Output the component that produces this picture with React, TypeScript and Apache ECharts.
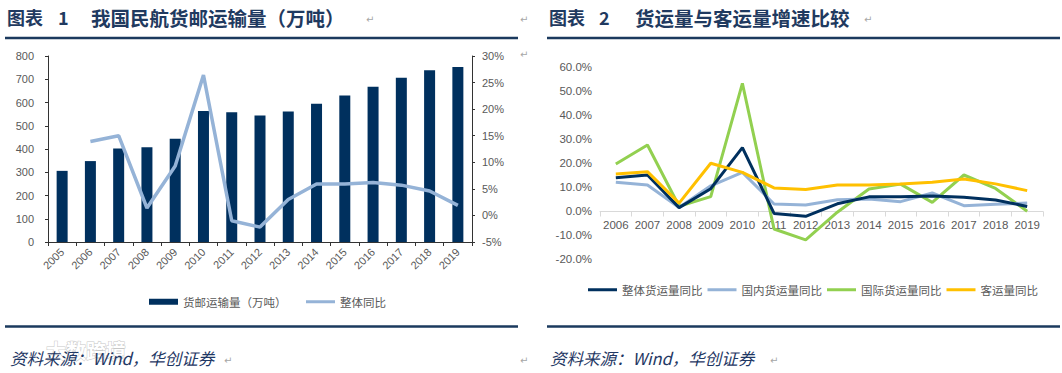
import React, { useEffect, useRef } from "react";
import * as echarts from "echarts";

const years1 = ["2005","2006","2007","2008","2009","2010","2011","2012","2013","2014","2015","2016","2017","2018","2019"];
const cargoVolume = [306, 348, 402, 407, 444, 563, 558, 544, 561, 595, 630, 668, 706, 739, 753];
const cargoYoY = [null, 13.9, 15.0, 1.4, 9.3, 26.4, -1.0, -2.2, 3.0, 5.9, 5.9, 6.2, 5.7, 4.6, 1.9];

const years2 = ["2006","2007","2008","2009","2010","2011","2012","2013","2014","2015","2016","2017","2018","2019"];
const totalYoY = [13.9, 15.0, 1.4, 9.3, 26.4, -1.0, -2.2, 3.0, 5.9, 5.9, 6.2, 5.7, 4.6, 1.9];
const domesticYoY = [12.0, 10.8, 1.5, 10.5, 16.1, 2.9, 2.5, 4.7, 5.0, 3.9, 7.5, 2.2, 2.8, 3.3];
const intlYoY = [19.6, 27.5, 2.0, 6.0, 53.2, -7.5, -12.0, -0.5, 9.2, 11.2, 3.6, 15.0, 9.4, -0.1];
const passengerYoY = [15.4, 16.4, 3.3, 19.9, 16.1, 9.6, 9.0, 10.8, 10.8, 11.3, 12.0, 13.3, 11.3, 8.5];

const NAVY = "#00305E";
const LIGHT = "#95B3D7";
const GREEN = "#92D050";
const YELLOW = "#FFC000";
const TITLE = "#1F3A60";
const GRAYTXT = "#595959";
const FONT = "'Liberation Sans', Arial, 'Noto Sans CJK SC', sans-serif";
const CJK = "'Noto Sans CJK SC', sans-serif";

export default function App() {
  const ref = useRef<HTMLDivElement>(null);
  useEffect(() => {
    if (!ref.current) return;
    const chart = echarts.init(ref.current, null, { renderer: "svg" });
    const mark = (x: number, y: number) => ({
      type: "text", x, y,
      style: { text: "↵", fill: "#A6A6A6", font: "10px 'DejaVu Sans'", verticalAlign: "middle" },
    });
    const option: any = {
      animation: false,
      backgroundColor: "#fff",
      textStyle: { fontFamily: FONT },
      graphic: [
        // watermark
        { type: "text", x: 46, y: 350, z: 1, style: { text: "大数跨境", fill: "#fff", stroke: "#C8C8C8", lineWidth: 1, font: `bold 20px ${CJK}`, verticalAlign: "middle" } },
        // titles
        { type: "text", x: 7, y: 17, style: { text: "图表", fill: TITLE, font: `bold 18px ${CJK}`, verticalAlign: "middle" } },
        { type: "text", x: 58, y: 17, style: { text: "1", fill: TITLE, font: `bold 18px ${CJK}`, verticalAlign: "middle" } },
        { type: "text", x: 91, y: 17, style: { text: "我国民航货邮运输量（万吨）", fill: TITLE, font: `bold 19.5px ${CJK}`, verticalAlign: "middle" } },
        mark(366, 19), mark(520, 19), mark(520, 54),
        { type: "text", x: 549, y: 17, style: { text: "图表", fill: TITLE, font: `bold 18px ${CJK}`, verticalAlign: "middle" } },
        { type: "text", x: 599, y: 17, style: { text: "2", fill: TITLE, font: `bold 18px ${CJK}`, verticalAlign: "middle" } },
        { type: "text", x: 635, y: 17, style: { text: "货运量与客运量增速比较", fill: TITLE, font: `bold 19.5px ${CJK}`, verticalAlign: "middle" } },
        mark(864, 19),
        // rules
        { type: "line", shape: { x1: 5, y1: 38, x2: 518, y2: 38 }, style: { stroke: "#1B3A5E", lineWidth: 2.5 } },
        { type: "line", shape: { x1: 547, y1: 38, x2: 1060, y2: 38 }, style: { stroke: "#1B3A5E", lineWidth: 2.5 } },
        { type: "line", shape: { x1: 5, y1: 326.5, x2: 518, y2: 326.5 }, style: { stroke: "#1B3A5E", lineWidth: 2.5 } },
        { type: "line", shape: { x1: 547, y1: 326.5, x2: 1060, y2: 326.5 }, style: { stroke: "#1B3A5E", lineWidth: 2.5 } },
        // sources
        { type: "text", x: 10, y: 358, z: 5, style: { text: "资料来源：Wind，华创证券", fill: "#1F3864", font: `italic 16.5px ${CJK}`, verticalAlign: "middle" } },
        mark(224, 360), mark(520, 360),
        { type: "text", x: 550, y: 358, style: { text: "资料来源：Wind，华创证券", fill: "#1F3864", font: `italic 16.5px ${CJK}`, verticalAlign: "middle" } },
        mark(770, 360),
      ],
      grid: [
        { left: 48, right: 590, top: 56, bottom: 131, containLabel: false },
        { left: 600, right: 19, top: 67, bottom: 114, containLabel: false },
      ],
      legend: [
        {
          data: ["货邮运输量（万吨）"], left: 144, top: 291, icon: "rect", itemWidth: 29, itemHeight: 6,
          textStyle: { color: GRAYTXT, fontSize: 11.5, fontFamily: CJK },
        },
        {
          data: ["整体同比"], left: 301, top: 291, icon: "rect", itemWidth: 29, itemHeight: 3,
          textStyle: { color: GRAYTXT, fontSize: 11.5, fontFamily: CJK },
        },
        {
          data: ["整体货运量同比", "国内货运量同比", "国际货运量同比", "客运量同比"], left: 583, top: 279,
          icon: "rect", itemWidth: 29, itemHeight: 3, itemGap: 5,
          textStyle: { color: GRAYTXT, fontSize: 11.5, fontFamily: CJK },
        },
      ],
      xAxis: [
        {
          type: "category", gridIndex: 0, data: years1, boundaryGap: true,
          axisLine: { lineStyle: { color: "#333", width: 1 } },
          axisTick: { show: true, interval: 0, length: 4, lineStyle: { color: "#333" } },
          axisLabel: { interval: 0, rotate: 45, color: GRAYTXT, fontSize: 11, margin: 8 },
        },
        {
          type: "category", gridIndex: 1, data: years2, boundaryGap: true, position: "bottom",
          offset: -47.5,
          axisLine: { onZero: false, lineStyle: { color: "#D9D9D9", width: 1 } },
          axisTick: { show: true, interval: 0, length: 5, lineStyle: { color: "#D9D9D9" } },
          axisLabel: { interval: 0, color: GRAYTXT, fontSize: 11.5, margin: 8 },
        },
      ],
      yAxis: [
        {
          type: "value", gridIndex: 0, min: 0, max: 800, interval: 100, position: "left",
          axisLine: { show: true, lineStyle: { color: "#333" } },
          axisTick: { show: true, length: 3, lineStyle: { color: "#333" } },
          splitLine: { show: false },
          axisLabel: { color: GRAYTXT, fontSize: 11, margin: 14 },
        },
        {
          type: "value", gridIndex: 0, min: -5, max: 30, interval: 5, position: "right",
          axisLine: { show: true, lineStyle: { color: "#333" } },
          axisTick: { show: true, length: 3, lineStyle: { color: "#333" } },
          splitLine: { show: false },
          axisLabel: { color: GRAYTXT, fontSize: 11, margin: 10, formatter: (v: number) => `${v}%` },
        },
        {
          type: "value", gridIndex: 1, min: -20, max: 60, interval: 10,
          axisLine: { show: false }, axisTick: { show: false }, splitLine: { show: false },
          axisLabel: { color: GRAYTXT, fontSize: 11.5, margin: 8, formatter: (v: number) => `${v.toFixed(1)}%` },
        },
      ],
      series: [
        {
          name: "货邮运输量（万吨）", type: "bar", xAxisIndex: 0, yAxisIndex: 0, data: cargoVolume,
          barWidth: 11, itemStyle: { color: NAVY },
        },
        {
          name: "整体同比", type: "line", xAxisIndex: 0, yAxisIndex: 1, data: cargoYoY,
          symbol: "none", lineStyle: { color: LIGHT, width: 3.5 }, itemStyle: { color: LIGHT },
        },
        {
          name: "整体货运量同比", type: "line", xAxisIndex: 1, yAxisIndex: 2, data: totalYoY,
          symbol: "none", lineStyle: { color: NAVY, width: 3 }, itemStyle: { color: NAVY }, z: 5,
        },
        {
          name: "国内货运量同比", type: "line", xAxisIndex: 1, yAxisIndex: 2, data: domesticYoY,
          symbol: "none", lineStyle: { color: LIGHT, width: 3 }, itemStyle: { color: LIGHT }, z: 4,
        },
        {
          name: "国际货运量同比", type: "line", xAxisIndex: 1, yAxisIndex: 2, data: intlYoY,
          symbol: "none", lineStyle: { color: GREEN, width: 3 }, itemStyle: { color: GREEN }, z: 3,
        },
        {
          name: "客运量同比", type: "line", xAxisIndex: 1, yAxisIndex: 2, data: passengerYoY,
          symbol: "none", lineStyle: { color: YELLOW, width: 3 }, itemStyle: { color: YELLOW }, z: 6,
        },
      ],
    };
    chart.setOption(option);
    return () => chart.dispose();
  }, []);
  return (
    <div
      ref={ref}
      style={{ position: "absolute", left: 0, top: 0, width: 1062, height: 373, background: "#fff" }}
    />
  );
}
